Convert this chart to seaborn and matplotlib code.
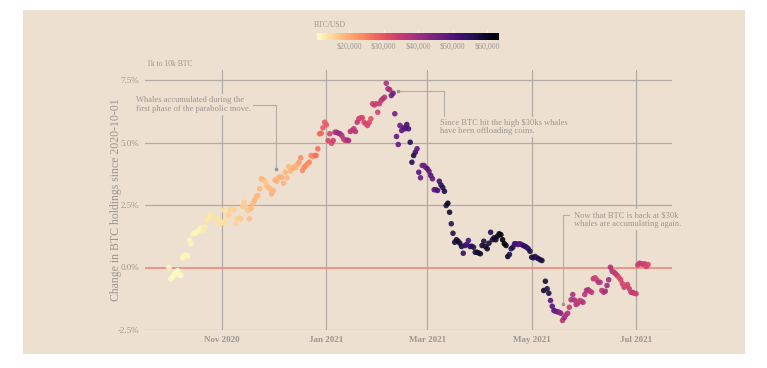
import pandas as pd
import matplotlib.pyplot as plt
import matplotlib.dates as mdates
import matplotlib as mpl
from matplotlib.patches import Rectangle
import seaborn as sns

# daily change in holdings (%) of 1k-10k BTC wallets
holdings_oct = [0.00, -0.45, -0.38, -0.28, -0.19, -0.12, -0.29, -0.32, 0.39, 0.48,
                0.50, 0.46, 1.10, 0.95, 1.35, 1.38, 1.41, 1.45, 1.55, 1.60,
                1.48, 1.61, 1.88, 1.98, 2.05, 2.10, 2.08, 2.00, 1.95, 1.77, 1.75]
holdings_nov = [1.81, 2.30, 1.81, 2.05, 2.10, 2.32, 2.35, 2.30, 1.75, 1.95,
                1.98, 1.95, 2.44, 2.61, 2.40, 2.28, 1.95, 2.35, 2.55, 2.68,
                2.84, 2.88, 3.15, 3.55, 3.51, 3.45, 3.28, 3.20, 3.15, 2.95]
holdings_dec = [3.08, 3.50, 3.45, 3.60, 3.62, 3.60, 3.37, 3.81, 3.58, 4.04,
                3.85, 3.95, 4.02, 3.99, 4.12, 4.20, 4.39, 3.88, 4.01, 4.08,
                4.15, 4.21, 4.48, 4.44, 4.48, 4.48, 4.75, 5.35, 5.37, 5.59, 5.81]
holdings_jan = [5.71, 5.08, 5.35, 4.97, 5.08, 5.41, 5.41, 5.37, 5.35, 5.28,
                5.15, 5.08, 5.10, 5.08, 5.44, 5.48, 5.55, 5.44, 5.81, 5.95,
                5.99, 5.99, 5.81, 5.75, 5.68, 5.79, 5.95, 6.55, 6.50, 6.55, 6.21]
holdings_feb = [6.55, 6.68, 6.75, 6.81, 7.37, 7.15, 7.11, 6.88, 6.97, 6.15,
                5.24, 4.92, 5.68, 5.48, 5.59, 5.55, 5.72, 5.55, 5.01, 4.21,
                4.48, 4.61, 4.75, 3.81, 3.59, 4.08, 4.08, 4.01]
holdings_mar = [3.95, 3.85, 3.68, 3.55, 3.11, 3.11, 3.08, 3.45, 3.30, 3.20,
                3.05, 2.48, 2.57, 2.21, 1.75, 1.37, 1.01, 1.11, 1.05, 0.97,
                0.84, 0.57, 0.88, 0.92, 1.08, 0.84, 0.85, 0.81, 0.61, 0.61, 0.58]
holdings_apr = [0.55, 0.88, 1.05, 0.84, 0.75, 0.97, 1.41, 1.11, 1.19, 1.11,
                1.25, 1.35, 1.31, 1.11, 0.95, 0.88, 0.44, 0.52, 0.75, 0.81,
                0.95, 0.95, 0.92, 0.95, 0.92, 0.88, 0.85, 0.81, 0.75, 0.65]
holdings_may = [0.41, 0.39, 0.44, 0.39, 0.35, 0.31, 0.28, -0.92, -0.55, -0.85,
                -1.03, -1.32, -1.55, -1.72, -1.75, -1.77, -1.79, -1.83, -2.12, -2.01,
                -1.90, -1.83, -1.59, -1.29, -1.08, -1.30, -1.48, -1.43, -1.32, -1.35, -1.39]
holdings_jun = [-1.08, -0.92, -0.89, -0.95, -0.99, -0.45, -0.41, -0.49, -0.59, -0.59,
                -0.92, -0.99, -0.95, -0.72, -0.49, 0.01, -0.15, -0.19, -0.25, -0.32,
                -0.40, -0.49, -0.65, -0.79, -0.72, -0.68, -0.85, -0.99, -1.00, -1.03]
holdings_jul = [-1.05, 0.10, 0.17, 0.15, 0.12, 0.15, 0.04, 0.12]

# daily BTC/USD close, used for the colour of each dot
btc_oct = [10620, 10570, 10550, 10670, 10790, 10600, 10670, 10920, 11060, 11300,
           11380, 11550, 11430, 11430, 11500, 11320, 11370, 11530, 11750, 11920,
           12820, 12970, 12930, 13110, 13030, 13070, 13650, 13270, 13460, 13560, 13800]
btc_nov = [13760, 13550, 14030, 14130, 15590, 15580, 14830, 15480, 15330, 15310,
           15700, 16280, 16320, 16070, 15960, 16720, 17650, 17800, 17820, 18640,
           18680, 18370, 18360, 19100, 18730, 17150, 17140, 17720, 18180, 19630]
btc_dec = [18800, 19200, 19450, 18700, 19150, 19360, 19170, 18320, 18550, 18260,
           18060, 18800, 19140, 19250, 19430, 21310, 22810, 23140, 23870, 23480,
           22750, 23820, 23240, 23730, 24710, 26490, 26280, 27080, 27360, 28840, 29000]
btc_jan = [29370, 32130, 33000, 31970, 33990, 36820, 39370, 40800, 40250, 38350,
           35570, 33920, 37320, 39190, 36820, 36180, 35790, 36630, 36070, 35540,
           30830, 33000, 32080, 32280, 32370, 32570, 30430, 33470, 34320, 34310, 33110]
btc_feb = [33540, 35510, 37470, 36930, 38140, 39270, 38900, 46200, 46480, 44920,
           47910, 47500, 47100, 48720, 47950, 49130, 52110, 51680, 55890, 55890,
           57410, 54090, 48890, 49700, 47090, 46340, 46190, 45140]
btc_mar = [49630, 48380, 50540, 48370, 48760, 48880, 51000, 52250, 54820, 55960,
           57800, 57230, 61190, 59000, 55640, 56470, 58330, 57850, 58350, 58100,
           57350, 54100, 54340, 52300, 51300, 55040, 55970, 55780, 57630, 58730, 58920]
btc_apr = [59100, 59000, 57100, 58210, 59130, 57990, 56000, 58080, 58100, 59770,
           60200, 59890, 63500, 62970, 63110, 61570, 60300, 56250, 55720, 56470,
           53910, 51760, 51090, 50050, 49000, 54020, 55030, 54820, 53560, 57750]
btc_may = [57830, 56630, 57200, 53240, 57470, 56430, 57400, 58930, 58280, 55860,
           56700, 49150, 49720, 49880, 46760, 46450, 43540, 42910, 36960, 40780,
           37300, 37540, 34770, 38710, 38490, 39290, 38530, 35680, 34660, 35680, 37340]
btc_jun = [36690, 37570, 39190, 36880, 35550, 35800, 33590, 33470, 37350, 36700,
           37340, 35550, 39100, 40520, 40140, 38350, 38090, 35820, 35480, 35600,
           31680, 32510, 33680, 34660, 31590, 32160, 34640, 34440, 35870, 35040]
btc_jul = [33570, 33900, 34670, 35290, 33690, 34230, 33860, 32880]

start_date = "2020-10-01"
price_ticks = [20000, 30000, 40000, 50000, 60000]
y_ticks = [-2.5, 0.0, 2.5, 5.0, 7.5]

BG = "#eee0d1"
GREY = "#9c958e"
GRID = "#b3aca5"
SERIF = ["Liberation Serif", "DejaVu Serif"]


def build_frame():
    holdings = (holdings_oct + holdings_nov + holdings_dec + holdings_jan + holdings_feb
                + holdings_mar + holdings_apr + holdings_may + holdings_jun + holdings_jul)
    prices = (btc_oct + btc_nov + btc_dec + btc_jan + btc_feb
              + btc_mar + btc_apr + btc_may + btc_jun + btc_jul)
    dates = pd.date_range(start_date, periods=len(holdings), freq="D")
    return pd.DataFrame({"date": dates, "holdings": holdings, "price": prices})


def day(n):
    # position n days after the start date, used for the annotation leaders
    return pd.Timestamp(start_date) + pd.Timedelta(days=n)


def leader(ax, xs, ys):
    ax.plot(xs, ys, color=GRID, lw=0.8, zorder=4, clip_on=False)
    ax.plot(xs[-1], ys[-1], "o", color=GREY, ms=1.6, zorder=4, clip_on=False)


def note(ax, x, y, text, va="center"):
    ax.text(x, y, text, fontsize=6.1, color=GREY, family=SERIF, va=va, ha="left",
            linespacing=1.05, zorder=5, clip_on=False,
            bbox=dict(facecolor=BG, edgecolor="none", pad=1.5))


def draw(df):
    sns.set_style("white")
    plt.rcParams["font.family"] = SERIF

    W, H = 767, 368
    fig = plt.figure(figsize=(W / 100, H / 100), dpi=100, facecolor="white")
    fig.patches.append(Rectangle((23 / W, 1 - 354 / H), 722 / W, 344 / H,
                                 transform=fig.transFigure, facecolor=BG,
                                 edgecolor="none", zorder=-10))

    ax = fig.add_axes([145 / W, 1 - 330 / H, 527 / W, 260 / H])
    ax.set_facecolor("none")

    vmin, vmax = df["price"].min(), df["price"].max()
    sns.scatterplot(data=df, x="date", y="holdings", hue="price", palette="magma_r",
                    hue_norm=(vmin, vmax), s=16, linewidth=0, alpha=0.9,
                    legend=False, ax=ax, zorder=3)

    ax.set_xlim(pd.Timestamp("2020-09-17"), pd.Timestamp("2021-07-22"))
    ax.set_ylim(-2.5, 7.9)
    ax.set_yticks(y_ticks)
    ax.yaxis.set_major_formatter(mpl.ticker.FuncFormatter(lambda v, p: f"{v:.1f}%"))
    ax.xaxis.set_major_locator(mdates.MonthLocator(bymonth=range(1, 13, 2)))
    ax.xaxis.set_major_formatter(mdates.DateFormatter("%b %Y"))

    for t in y_ticks:
        if t != 0:
            ax.axhline(t, color=GRID, lw=0.9, zorder=1)
    ax.axhline(0, color="#ee8878", lw=1.2, zorder=2)
    for t in ax.get_xticks():
        ax.axvline(t, color=GRID, lw=0.9, zorder=1)

    sns.despine(ax=ax, left=True, bottom=True)
    ax.tick_params(length=0, labelsize=6.5, labelcolor=GREY, pad=4)
    for lab in ax.get_xticklabels():
        lab.set_fontweight("bold")
    ax.set_xlabel("")
    ax.set_ylabel("Change in BTC holdings since 2020-10-01", fontsize=8.5,
                  color=GREY, labelpad=-3)
    fig.text(147 / W, 1 - 66 / H, "1k to 10k BTC", fontsize=5.5, color=GREY)

    # annotations
    note(ax, day(-19.5), 6.52, "Whales accumulated during the\nfirst phase of the parabolic move.")
    leader(ax, [day(47), day(62.7), day(62.7)], [6.52, 6.52, 3.95])

    note(ax, day(158.5), 5.95, "Since BTC hit the high $30ks whales\nhave been offloading coins.", va="top")
    leader(ax, [day(160.6), day(160.6), day(133.8)], [6.05, 7.08, 7.08])

    note(ax, day(236.5), 1.92, "Now that BTC is back at $30k\nwhales are accumulating again.")
    leader(ax, [day(234), day(230.4), day(230.4)], [2.1, 2.1, -1.45])

    # colour bar for BTC/USD
    cax = fig.add_axes([317 / W, 1 - 40 / H, 182 / W, 7 / H])
    sm = mpl.cm.ScalarMappable(norm=mpl.colors.Normalize(vmin, vmax), cmap="magma_r")
    cb = fig.colorbar(sm, cax=cax, orientation="horizontal", ticks=price_ticks)
    cb.outline.set_visible(False)
    cb.ax.set_xticklabels([f"${p:,}" for p in price_ticks])
    cb.ax.tick_params(length=7, width=0.4, color="white", direction="in",
                      labelsize=5.8, labelcolor=GREY, pad=2)
    cax.set_title("BTC/USD", loc="left", fontsize=5.5, color=GREY, pad=4, x=-0.02)

    fig.savefig("out.png", dpi=100, facecolor="white")


def main():
    df = build_frame()
    draw(df)


if __name__ == "__main__":
    main()
